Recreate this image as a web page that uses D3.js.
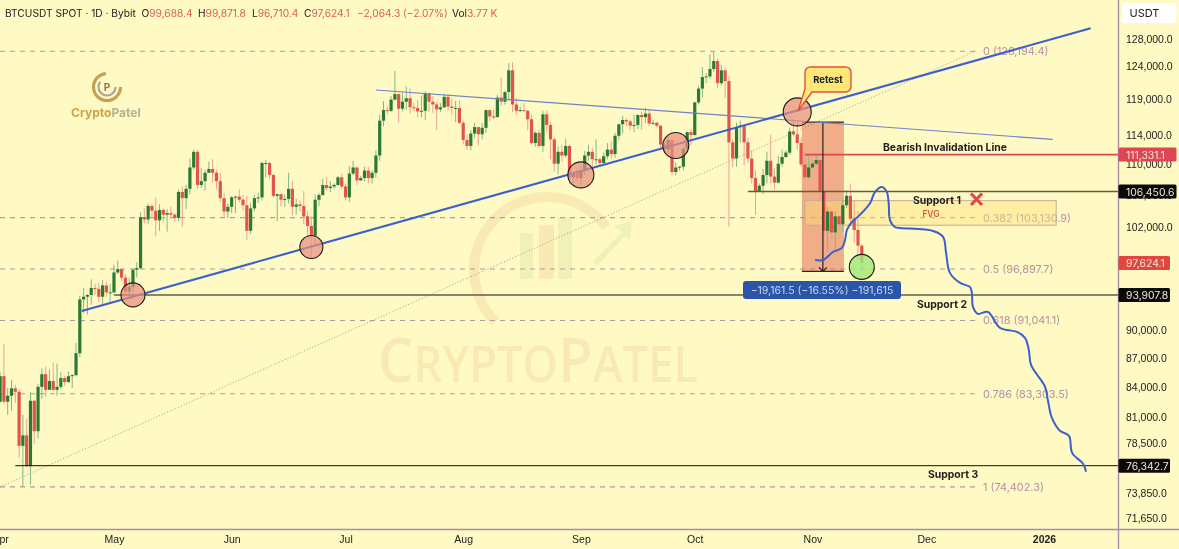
<!DOCTYPE html>
<html>
<head>
<meta charset="utf-8">
<script src="https://cdn.jsdelivr.net/npm/d3@7"></script>
<style>
  html, body { margin: 0; padding: 0; background: #fff9c4; }
  svg { display: block; font-family: Inter, "Noto Sans", sans-serif; filter: blur(0.4px); }
  .axis text { fill: #222; font-size: 10.5px; }
  .axis path, .axis line { display: none; }
  .note { fill: #1e1e1e; font-size: 10.4px; font-weight: 700; }
  .fib-label { fill: #b68fa8; font-size: 10.9px; }
  .tag { fill: #f3e6d8; font-size: 10.4px; }
</style>
</head>
<body>
<svg id="chart" width="1179" height="549"></svg>
<script>
// daily candles, 1 Apr to 14 Nov 2025, open of each day = previous close
const firstDay = "2025-04-01"
const firstOpen = 82500
const closes = [
  85100,82500,83100,83850,83500,78200,79200,76300,82600,79600,84000,85300,83700,84600,83700,84000,84900,84500,85100,85200,87500,93400,93700,93900,94700,94600,93700,95000,94200,94200,
  96500,96900,95900,94300,94800,96800,97000,103200,102900,104600,104000,102800,104100,103500,103700,103500,103100,106400,105600,106800,109600,111700,107300,107800,108900,109400,108900,107800,105600,103900,104500,
  105700,105800,105400,104700,101500,104300,105600,105700,110200,110200,108600,105900,106100,105400,105500,106800,104500,104800,104600,103300,102100,100900,105400,106000,107300,106900,107100,107300,108300,107100,
  105700,108800,109600,107900,108200,109200,108200,108900,111200,116000,117500,117400,119000,119800,117700,118700,119200,117900,117800,117300,117400,119900,118700,118300,117600,117900,119400,118000,117800,117800,115700,
  113300,112500,114200,115100,114100,115000,117500,116600,116500,119300,118700,120100,123300,118300,117400,117500,117400,116200,112900,114300,112500,116900,115400,113400,110100,111700,111200,112500,108300,108800,108200,
  109200,111200,111700,110700,110700,110200,111100,112000,111400,113900,115500,116100,115900,115300,115400,116800,116500,117000,115600,115700,115300,112700,112000,113300,109000,109600,109700,112100,114400,114000,
  118600,120600,122300,122400,123500,124700,121400,123300,121700,113000,110800,115100,115300,113000,110800,108200,106500,107200,108600,110500,108400,107600,110100,111000,111600,114500,114100,112900,110000,108300,109600,
  110100,110600,106500,101500,103900,101300,103300,102300,104700,105900,103000,101600,99688.4,97624.1
]
const highs = [
  85500,88500,83900,84700,84200,83800,81200,80800,83500,82700,84300,85900,86100,85800,86500,86400,85500,85100,85600,85300,88600,93800,94700,94000,95700,95200,95300,95600,95400,95200,
  97400,97900,96900,96300,95900,97000,97700,103800,104300,104900,104900,105700,104800,104300,104200,104500,103700,106700,107100,107300,110800,112000,111900,109500,109300,110400,110700,109300,108900,106300,104900,
  105900,105900,106800,106000,105900,105000,106000,106300,110400,110600,110400,108800,106200,106200,106100,108900,107800,105500,105300,106500,104000,103300,106100,106300,108100,108300,107800,107500,108500,108800,
  107500,109800,110500,109700,108500,109700,109700,109200,111900,116800,118800,118000,119500,123200,119900,120000,120900,120700,118500,118900,119600,120200,120000,119500,118600,118500,119800,119800,119200,118800,118900,
  116000,114000,114700,115700,115100,115700,117600,117600,117600,119700,122300,120300,124400,124500,119200,118000,118500,117500,116800,114500,114800,117400,117400,115800,113700,112400,112600,113500,112700,108900,109500,
  109900,111800,112600,112200,113400,110900,111600,112900,113200,114300,115500,116700,116300,116100,116800,116900,117300,117900,117400,116100,115900,115400,113400,114000,113500,110300,109800,112400,114500,114800,
  118700,121000,123800,122900,125700,126194,125100,124100,123700,122500,113400,115700,116000,115400,113600,111900,109200,107500,109400,111700,114000,109500,111200,112000,111900,115000,116300,116000,113600,111600,111100,
  110500,111200,110800,107000,104500,104000,104000,103400,105400,106650,107500,105300,104000,99871.8
]
const lows = [
  82400,82300,81200,81600,82400,77100,74402,76200,74600,78400,78900,82800,83000,83700,83600,83100,83800,84100,84400,83900,85100,87100,91900,91700,92800,93900,93100,92900,93700,92900,
  94100,96300,95500,93900,93500,93400,95900,96900,102400,102300,103100,100800,101500,102600,101400,103100,102600,102700,102000,104200,106100,109300,106800,106900,106600,108900,107600,106800,105100,103100,103100,
  103700,103700,105100,104000,100400,101100,103900,105000,105300,108300,108100,105700,102700,104500,104500,104900,103400,103500,103900,102300,100800,98200,99600,104600,105900,106600,106400,106800,107200,106700,
  105300,105100,108600,107300,107800,107800,107500,107500,108300,110500,115200,116900,117200,118900,115700,117300,117500,117000,117300,116500,116500,116100,117300,117100,114700,117200,117800,117400,116900,115800,115500,
  112700,112000,111900,113600,112600,113400,114300,115900,116200,116500,118100,118300,118900,117200,116800,117200,117200,114700,112700,112400,112300,111700,114500,110700,109000,108700,110400,110900,107400,107300,107900,
  107300,108600,110500,109400,110000,109900,110000,110700,110800,110900,113400,114200,115200,114700,114400,114800,114700,115700,115200,115400,115100,111900,111500,111500,108600,108600,109200,109200,111600,112600,
  113900,118300,119300,121400,122100,123100,120600,121100,119200,102000,109600,109700,113000,109900,110200,107500,103500,106400,106100,107500,107500,106700,107500,109700,110900,111300,113800,112000,109700,106300,108100,
  109500,109900,105300,98900,98900,100300,99300,101500,101400,104300,102500,100000,98000,96710.4
]

const priceTicks = [128000,124000,119000,114000,110000,106000,102000,98000,90000,87000,84000,81000,78500,73850,71650]
const monthTicks = ["2025-04-01","2025-05-01","2025-06-01","2025-07-01","2025-08-01","2025-09-01","2025-10-01","2025-11-01","2025-12-01","2026-01-01"]

const fibRatios = [0, 0.382, 0.5, 0.618, 0.786, 1]
const fibPrices = [126194.4, 103130.9, 96897.7, 91041.1, 83303.5, 74402.3]
const fibEnd = "2025-12-14"

const supportNames = ["Support 1", "Support 2", "Support 3"]
const supportPrices = [106450.6, 93907.8, 76342.7]
const supportStarts = ["2025-10-15", "2025-05-01", "2025-04-05"]
const invalidationPrice = 111331.1
const invalidationStart = "2025-10-30"

const risingLineDates = ["2025-04-22T12:00Z", "2026-01-13T07:00Z"]
const risingLinePrices = [92100, 129750]
const fallingLineDates = ["2025-07-09", "2026-01-03T07:00Z"]
const fallingLinePrices = [120400, 113400]

const fvgDates = ["2025-10-30", "2026-01-04T05:00Z"]
const fvgPrices = [105280, 102190]
const dropDates = ["2025-10-29T05:00Z", "2025-11-09T07:00Z"]
const dropPrices = [115786, 96624.5]

const touchDates = ["2025-05-06", "2025-06-22", "2025-09-01", "2025-09-26", "2025-10-28"]
const touchPrices = [93910, 99530, 108620, 112560, 117240]
const lowMarkDate = "2025-11-14"
const lowMarkPrice = 97150

// hand drawn forecast curve: days after 1 May, price
const forecastDays = [184.7,186.8,189.4,191.8,192.6,193.1,194.4,196.5,199.2,200.5,202.3,203.6,204.1,204.4,205.7,207.1,215.8,218.4,219.2,220.2,222.9,225.5,226,226.3,227.6,230.2,233.4,237.9,240,241,241.6,245.3,246,247.1,249.2,251.6,252.4,255.3,256.1]
const forecastPrices = [97970,97970,98930,99420,100380,101610,102590,103480,104990,106410,107050,106410,104990,102850,101970,101850,101480,100750,98810,96450,95280,94820,94130,92560,91780,91990,90230,89790,89140,87850,86270,84010,82690,80900,79640,79160,77540,76520,75780]

const lastPriceTags = [
  { price: 111331.1, color: "#dd4653", right: 1176.5 },
  { price: 106450.6, color: "#0a0a0a", right: 1176.5 },
  { price: 97624.1, color: "#e0483f", right: 1170 },
  { price: 93907.8, color: "#0a0a0a", right: 1170 },
  { price: 76342.7, color: "#0a0a0a", right: 1170 }
]

const plotRight = 1118.5
const plotBottom = 529.5
const green = "#2b7a33"
const red = "#e0544c"

const svg = d3.select("#chart")
const utc = s => new Date(s)
const x = d3.scaleUtc().domain([utc("2025-04-01"), utc("2026-01-01")]).range([0.1, 1044])
const y = d3.scaleLog().domain([128000, 71650]).range([39.5, 518])
const dayWidth = x(utc("2025-05-02")) - x(utc("2025-05-01"))

const candles = closes.map((c, i) => ({
  date: d3.utcDay.offset(utc(firstDay), i),
  open: i ? closes[i - 1] : firstOpen,
  close: c,
  high: highs[i],
  low: lows[i]
}))

svg.append("rect").attr("width", 1179).attr("height", 549).attr("fill", "#fff9c4")

drawWatermark()
drawCornerLogo()

// fib levels
svg.append("g").selectAll("line")
  .data(fibPrices)
  .enter().append("line")
  .attr("x1", 0)
  .attr("x2", x(utc(fibEnd)))
  .attr("y1", d => y(d))
  .attr("y2", d => y(d))
  .attr("stroke", "#b39a9c")
  .attr("stroke-width", 1.1)
  .attr("stroke-dasharray", "5,5")

svg.append("g").selectAll("text")
  .data(fibPrices)
  .enter().append("text")
  .attr("class", "fib-label")
  .attr("x", 983)
  .attr("y", d => y(d) + 4)
  .text((d, i) => fibRatios[i] + " (" + d3.format(",.1f")(d) + ")")

// fib trend line
svg.append("line")
  .attr("x1", 0)
  .attr("y1", y(fibPrices[5]))
  .attr("x2", x(utc(fibEnd)))
  .attr("y2", y(fibPrices[0]))
  .attr("stroke", "#a39c90")
  .attr("stroke-width", 1)
  .attr("stroke-dasharray", "1,2")

// measured drop, under the candles
var dropLeft = x(utc(dropDates[0]))
var dropRight = x(utc(dropDates[1]))
var dropMid = (dropLeft + dropRight) / 2
svg.append("rect")
  .attr("x", dropLeft)
  .attr("y", y(dropPrices[0]))
  .attr("width", dropRight - dropLeft)
  .attr("height", y(dropPrices[1]) - y(dropPrices[0]))
  .attr("fill", "#e0503f")
  .attr("fill-opacity", 0.45)

// fvg zone
var fvgX = x(utc(fvgDates[0]))
svg.append("rect")
  .attr("x", fvgX)
  .attr("y", y(fvgPrices[0]))
  .attr("width", x(utc(fvgDates[1])) - fvgX)
  .attr("height", y(fvgPrices[1]) - y(fvgPrices[0]))
  .attr("fill", "#fce27a")
  .attr("fill-opacity", 0.42)
  .attr("stroke", "#c7ab9c")
  .attr("stroke-width", 1)

// candles
var candle = svg.append("g").selectAll("g")
  .data(candles)
  .enter().append("g")

candle.append("line")
  .attr("x1", d => x(d.date))
  .attr("x2", d => x(d.date))
  .attr("y1", d => y(d.high))
  .attr("y2", d => y(d.low))
  .attr("stroke", d => d.close >= d.open ? "#86b587" : "#e9a394")
  .attr("stroke-width", 1)

candle.append("rect")
  .attr("x", d => x(d.date) - dayWidth * 0.42)
  .attr("width", dayWidth * 0.84)
  .attr("y", d => y(Math.max(d.open, d.close)))
  .attr("height", d => Math.max(1, Math.abs(y(d.open) - y(d.close))))
  .attr("fill", d => d.close >= d.open ? green : red)

// support lines
svg.append("g").selectAll("line")
  .data(supportPrices)
  .enter().append("line")
  .attr("x1", (d, i) => x(utc(supportStarts[i])))
  .attr("x2", plotRight)
  .attr("y1", d => y(d))
  .attr("y2", d => y(d))
  .attr("stroke", (d, i) => i == 2 ? "#111" : "#5f5c48")
  .attr("stroke-width", (d, i) => i == 2 ? 1 : 1.5)

svg.append("line")
  .attr("x1", x(utc(invalidationStart)))
  .attr("x2", plotRight)
  .attr("y1", y(invalidationPrice))
  .attr("y2", y(invalidationPrice))
  .attr("stroke", "#dd4653")
  .attr("stroke-width", 1.8)

// drop edges and arrow
svg.append("g").selectAll("line")
  .data(dropPrices)
  .enter().append("line")
  .attr("x1", dropLeft)
  .attr("x2", dropRight)
  .attr("y1", d => y(d))
  .attr("y2", d => y(d))
  .attr("stroke", "#2a2420")
  .attr("stroke-width", 1.2)

svg.append("line")
  .attr("x1", dropMid)
  .attr("x2", dropMid)
  .attr("y1", y(dropPrices[0]))
  .attr("y2", y(dropPrices[1]))
  .attr("stroke", "#2a2420")
  .attr("stroke-width", 1.2)

svg.append("path")
  .attr("d", "M" + (dropMid - 4) + "," + (y(dropPrices[1]) - 4) + "L" + dropMid + "," + y(dropPrices[1]) + "L" + (dropMid + 4) + "," + (y(dropPrices[1]) - 4))
  .attr("fill", "none")
  .attr("stroke", "#2a2420")
  .attr("stroke-width", 1.2)

// trend lines
svg.append("line")
  .attr("x1", x(utc(fallingLineDates[0])))
  .attr("y1", y(fallingLinePrices[0]))
  .attr("x2", x(utc(fallingLineDates[1])))
  .attr("y2", y(fallingLinePrices[1]))
  .attr("stroke", "#6c84c8")
  .attr("stroke-width", 1.2)

svg.append("line")
  .attr("x1", x(utc(risingLineDates[0])))
  .attr("y1", y(risingLinePrices[0]))
  .attr("x2", x(utc(risingLineDates[1])))
  .attr("y2", y(risingLinePrices[1]))
  .attr("stroke", "#3b60cc")
  .attr("stroke-width", 2.1)

// touch circles
const touchRadius = [12, 11.5, 13, 13, 14]
svg.append("g").selectAll("circle")
  .data(touchDates)
  .enter().append("circle")
  .attr("cx", d => x(utc(d)))
  .attr("cy", (d, i) => y(touchPrices[i]))
  .attr("r", (d, i) => touchRadius[i])
  .attr("fill", "#e88f80")
  .attr("fill-opacity", 0.72)
  .attr("stroke", "#1c1c1c")
  .attr("stroke-width", 1.1)

svg.append("circle")
  .attr("cx", x(utc(lowMarkDate)))
  .attr("cy", y(lowMarkPrice))
  .attr("r", 12.5)
  .attr("fill", "#9ee87a")
  .attr("fill-opacity", 0.8)
  .attr("stroke", "#1c1c1c")
  .attr("stroke-width", 1.1)

// forecast curve
var forecastLine = d3.line()
  .x(d => x(d3.utcHour.offset(utc("2025-05-01"), Math.round(d[0] * 24))))
  .y(d => y(d[1]))
  .curve(d3.curveCatmullRom)

svg.append("path")
  .datum(forecastDays.map((d, i) => [d, forecastPrices[i]]))
  .attr("d", forecastLine)
  .attr("fill", "none")
  .attr("stroke", "#3b60cc")
  .attr("stroke-width", 2)

// retest callout
svg.append("path")
  .attr("d", "M811,67 H845 Q851,67 851,73 V86 Q851,92 845,92 H812 L798,111 L805,89 V73 Q805,67 811,67 Z")
  .attr("fill", "#ffe878")
  .attr("stroke", "#e2503c")
  .attr("stroke-width", 1.4)

svg.append("text").attr("class", "note").attr("x", 828).attr("y", 82.5)
  .attr("text-anchor", "middle").style("font-size", "9.5px").text("Retest")

// drop label
svg.append("rect")
  .attr("x", 743).attr("y", 281).attr("width", 158).attr("height", 18).attr("rx", 3)
  .attr("fill", "#2a55a8")
svg.append("text")
  .attr("x", 822).attr("y", 293.5)
  .attr("text-anchor", "middle")
  .attr("fill", "#c9d8f2")
  .style("font-size", "10.5px")
  .text("\u221219,161.5 (\u221216.55%) \u2212191,615")

// text notes
const noteX = [913, 917, 928]
const noteY = [203.5, 307.5, 478]
svg.append("g").selectAll("text")
  .data(supportNames)
  .enter().append("text")
  .attr("class", "note")
  .attr("x", (d, i) => noteX[i])
  .attr("y", (d, i) => noteY[i])
  .text(d => d)

svg.append("text").attr("class", "note").attr("x", 883).attr("y", 150.5).text("Bearish Invalidation Line")
svg.append("text").attr("x", 931).attr("y", 217).attr("text-anchor", "middle")
  .attr("fill", "#d9594a").style("font-size", "8.5px").style("font-weight", 600).text("FVG")

svg.append("path")
  .attr("d", "M971,193.5 L982,205 M982,193.5 L971,205")
  .attr("stroke", "#e2474a")
  .attr("stroke-width", 3.2)

// axes
svg.append("line").attr("x1", plotRight).attr("x2", plotRight).attr("y1", 0).attr("y2", 549)
  .attr("stroke", "#a98bae").attr("stroke-width", 1.4)
svg.append("line").attr("x1", 0).attr("x2", 1179).attr("y1", plotBottom).attr("y2", plotBottom)
  .attr("stroke", "#a98bae").attr("stroke-width", 1.4)

svg.append("g")
  .attr("class", "axis")
  .attr("transform", "translate(1118,0)")
  .call(d3.axisRight(y).tickValues(priceTicks).tickFormat(d3.format(",.1f")).tickSize(0).tickPadding(8))

svg.append("g")
  .attr("class", "axis")
  .attr("transform", "translate(0,530)")
  .call(d3.axisBottom(x).tickValues(monthTicks.map(utc)).tickFormat(d => d.getUTCMonth() == 0 ? d.getUTCFullYear() : d3.utcFormat("%b")(d)).tickSize(0).tickPadding(6))
  .selectAll("text")
  .style("font-weight", d => d.getUTCMonth() == 0 ? 700 : 400)

// last price tags
var tag = svg.append("g").selectAll("g")
  .data(lastPriceTags)
  .enter().append("g")

tag.append("rect")
  .attr("x", plotRight)
  .attr("y", d => y(d.price) - 7)
  .attr("width", d => d.right - plotRight)
  .attr("height", 14)
  .attr("rx", 1.5)
  .attr("fill", d => d.color)

tag.append("text")
  .attr("class", "tag")
  .attr("x", 1126)
  .attr("y", d => y(d.price) + 4)
  .text(d => d3.format(",.1f")(d.price))

// currency box
svg.append("rect").attr("x", 1122).attr("y", 3).attr("width", 54.5).attr("height", 20).attr("rx", 3).attr("fill", "#fff")
svg.append("text").attr("x", 1129.5).attr("y", 17).attr("fill", "#222").style("font-size", "11px").text("USDT")

drawHeader()

function drawHeader() {
  var header = svg.append("g").style("font-size", "10.2px")
  header.append("text").attr("x", 5).attr("y", 17).attr("fill", "#222").text("BTCUSDT SPOT \u00b7 1D \u00b7 Bybit")
  const labelX = [141.5, 198, 252, 304]
  const labels = ["O", "H", "L", "C"]
  const values = ["99,688.4", "99,871.8", "96,710.4", "97,624.1"]
  labels.forEach(function (l, i) {
    var t = header.append("text").attr("x", labelX[i]).attr("y", 17).attr("fill", "#222")
    t.append("tspan").text(l)
    t.append("tspan").attr("fill", "#d9605a").text(values[i])
  })
  header.append("text").attr("x", 357).attr("y", 17).attr("fill", "#d9605a").text("\u22122,064.3 (\u22122.07%)")
  var vol = header.append("text").attr("x", 452).attr("y", 17).attr("fill", "#222")
  vol.append("tspan").text("Vol")
  vol.append("tspan").attr("fill", "#d9605a").text("3.77 K")
}

function drawCornerLogo() {
  var logo = svg.append("g")
  logo.append("circle").attr("cx", 107).attr("cy", 87).attr("r", 13.5)
    .attr("fill", "none").attr("stroke", "#c9a050").attr("stroke-width", 3.2)
    .attr("stroke-dasharray", "62,23")
  logo.append("circle").attr("cx", 107).attr("cy", 87).attr("r", 8.5)
    .attr("fill", "none").attr("stroke", "#a8a49a").attr("stroke-width", 2.2)
    .attr("stroke-dasharray", "32,22")
  logo.append("text").attr("x", 107).attr("y", 91).attr("text-anchor", "middle")
    .attr("fill", "#8c7a4a").style("font-size", "10px").style("font-weight", 700).text("P")
  var name = logo.append("text").attr("x", 71).attr("y", 117)
    .style("font-size", "12px").style("font-weight", 700)
  name.append("tspan").attr("fill", "#cda24f").text("Crypto")
  name.append("tspan").attr("fill", "#b5ae98").text("Patel")
}

function drawWatermark() {
  var mark = svg.append("g").attr("opacity", 0.17)
  var arc = d3.arc().innerRadius(68).outerRadius(78)
  mark.append("path")
    .attr("transform", "translate(547,270)")
    .attr("d", arc({ startAngle: -Math.PI * 0.75, endAngle: Math.PI * 0.3 }))
    .attr("fill", "#e0a060")
  mark.append("rect").attr("x", 520).attr("y", 233).attr("width", 13).attr("height", 46).attr("fill", "#a8cc78")
  mark.append("rect").attr("x", 539).attr("y", 225).attr("width", 15).attr("height", 54).attr("fill", "#e0a060")
  mark.append("rect").attr("x", 558).attr("y", 217).attr("width", 14).attr("height", 62).attr("fill", "#a8cc78")
  mark.append("path")
    .attr("d", "M592,262 L622,232 L614,226 L632,221 L630,240 L625,236 L597,266 Z")
    .attr("fill", "#a8cc78")
  var word = mark.append("text")
    .attr("x", 378).attr("y", 382)
    .attr("textLength", 320)
    .attr("lengthAdjust", "spacingAndGlyphs")
    .attr("fill", "#e0a060")
    .style("font-family", "'Open Sans', sans-serif")
    .style("font-size", "50px")
    .style("font-weight", 600)
  word.append("tspan").style("font-size", "62px").text("C")
  word.append("tspan").text("RYPTO")
  word.append("tspan").style("font-size", "62px").text("P")
  word.append("tspan").text("ATEL")
}
</script>
</body>
</html>
